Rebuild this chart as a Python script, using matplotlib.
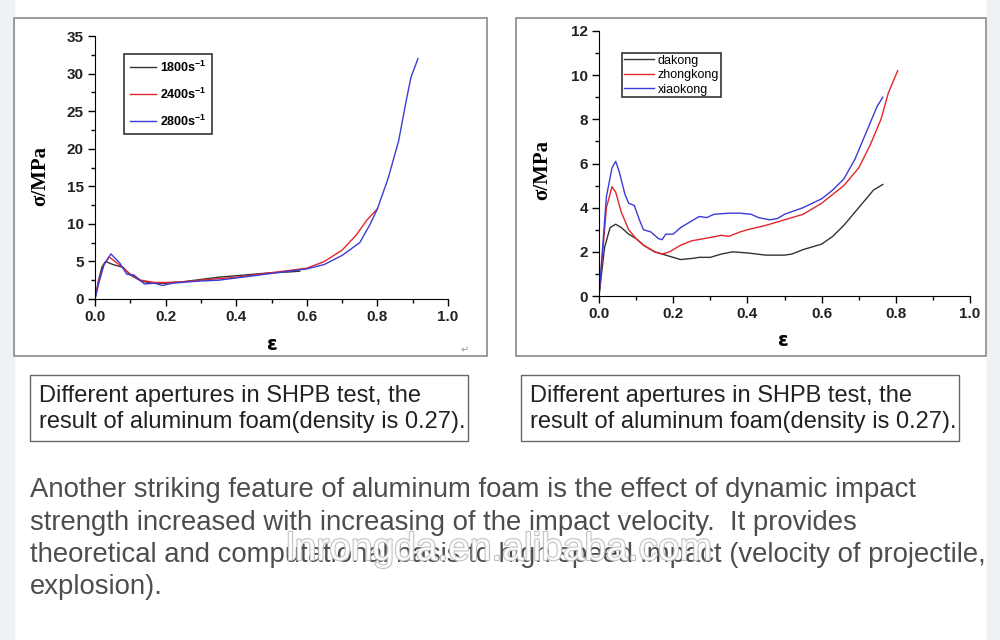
import matplotlib
matplotlib.use("Agg")
import matplotlib.pyplot as plt
from matplotlib.patches import Rectangle
from matplotlib.ticker import MultipleLocator
import matplotlib.patheffects as pe

plt.rcParams['font.family'] = ['Liberation Sans', 'DejaVu Sans']
plt.rcParams['mathtext.fontset'] = 'custom'
plt.rcParams['mathtext.bf'] = 'Liberation Sans:bold'
plt.rcParams['mathtext.default'] = 'bf'

W, H = 1000, 640

# ---- left chart: strain rates ----
rate_labels = ["1800s$^{-1}$", "2400s$^{-1}$", "2800s$^{-1}$"]
rate_colors = ["#333333", "#e3262c", "#3b3bd6"]
e_1800 = [0, 0.01, 0.02, 0.03, 0.05, 0.08, 0.1, 0.13, 0.16, 0.2, 0.25, 0.3, 0.35, 0.4, 0.45, 0.5, 0.55, 0.58]
s_1800 = [0, 2.5, 4.3, 5.0, 4.6, 4.2, 3.2, 2.4, 2.1, 2.1, 2.3, 2.6, 2.9, 3.1, 3.3, 3.5, 3.6, 3.7]
e_2400 = [0, 0.01, 0.025, 0.04, 0.07, 0.1, 0.13, 0.17, 0.2, 0.25, 0.3, 0.35, 0.4, 0.45, 0.5, 0.55, 0.6,
          0.65, 0.7, 0.74, 0.77, 0.8]
s_2400 = [0, 2.3, 4.6, 5.6, 4.5, 3.3, 2.5, 2.2, 2.2, 2.3, 2.5, 2.7, 2.9, 3.2, 3.5, 3.8, 4.1,
          5.0, 6.5, 8.5, 10.5, 12.0]
e_2800 = [0, 0.01, 0.025, 0.045, 0.07, 0.09, 0.11, 0.14, 0.17, 0.19, 0.22, 0.27, 0.3, 0.35, 0.4, 0.45,
          0.5, 0.55, 0.6, 0.65, 0.7, 0.75, 0.78, 0.8, 0.83, 0.86, 0.88, 0.895, 0.915]
s_2800 = [0, 2.0, 4.5, 6.0, 4.8, 3.3, 3.2, 2.0, 2.1, 1.8, 2.1, 2.3, 2.4, 2.5, 2.8, 3.1,
          3.4, 3.7, 4.0, 4.6, 5.8, 7.5, 10.0, 12.0, 16.0, 21.0, 26.0, 29.5, 32.0]

# ---- right chart: aperture sizes ----
hole_labels = ["dakong", "zhongkong", "xiaokong"]
hole_colors = ["#333333", "#e3262c", "#3b3bd6"]
e_da = [0, 0.015, 0.03, 0.045, 0.06, 0.08, 0.1, 0.12, 0.15, 0.18, 0.2, 0.22, 0.25, 0.27, 0.3, 0.33,
        0.36, 0.4, 0.45, 0.5, 0.52, 0.55, 0.6, 0.63, 0.66, 0.69, 0.72, 0.74, 0.765]
s_da = [0, 2.2, 3.1, 3.25, 3.1, 2.8, 2.6, 2.3, 2.0, 1.85, 1.75, 1.65, 1.7, 1.75, 1.75, 1.9,
        2.0, 1.95, 1.85, 1.85, 1.9, 2.1, 2.35, 2.7, 3.2, 3.8, 4.4, 4.8, 5.05]
e_zhong = [0, 0.02, 0.035, 0.045, 0.06, 0.08, 0.1, 0.12, 0.15, 0.17, 0.19, 0.22, 0.25, 0.3, 0.33, 0.35,
           0.38, 0.4, 0.45, 0.5, 0.55, 0.6, 0.63, 0.66, 0.7, 0.73, 0.76, 0.78, 0.805]
s_zhong = [0, 4.0, 4.95, 4.7, 3.8, 3.0, 2.6, 2.3, 2.0, 1.9, 2.0, 2.3, 2.5, 2.65, 2.75, 2.7,
           2.9, 3.0, 3.2, 3.45, 3.7, 4.2, 4.6, 5.0, 5.8, 6.8, 8.0, 9.2, 10.2]
e_xiao = [0, 0.02, 0.035, 0.045, 0.055, 0.07, 0.08, 0.095, 0.11, 0.12, 0.14, 0.16, 0.17, 0.18, 0.2,
          0.22, 0.25, 0.27, 0.29, 0.31, 0.35, 0.38, 0.41, 0.43, 0.46, 0.48, 0.5, 0.55, 0.6, 0.63,
          0.66, 0.69, 0.71, 0.73, 0.75, 0.765]
s_xiao = [0, 4.5, 5.8, 6.1, 5.6, 4.6, 4.2, 4.1, 3.4, 3.0, 2.9, 2.6, 2.55, 2.8, 2.8,
          3.1, 3.4, 3.6, 3.55, 3.7, 3.75, 3.75, 3.7, 3.55, 3.45, 3.5, 3.7, 4.0, 4.4, 4.8,
          5.3, 6.2, 7.0, 7.8, 8.6, 9.0]

caption = "Different apertures in SHPB test, the\nresult of aluminum foam(density is 0.27)."
paragraph = ["Another striking feature of aluminum foam is the effect of dynamic impact",
             "strength increased with increasing of the impact velocity.  It provides",
             "theoretical and computational basis to high speed impact (velocity of projectile,",
             "explosion)."]


def fx(x):
    return x / W


def fy(y):
    return 1 - y / H


fig = plt.figure(figsize=(10, 6.4), dpi=100)
fig.patch.set_facecolor("white")

# page strips and frames
fig.patches.append(Rectangle((0, 0), fx(14), 1, transform=fig.transFigure, color="#eef2f5", zorder=0))
fig.patches.append(Rectangle((fx(987), 0), 1, 1, transform=fig.transFigure, color="#eef2f5", zorder=0))
for x0, x1 in [(14, 487), (516, 986)]:
    fig.patches.append(Rectangle((fx(x0), fy(356)), fx(x1 - x0), (356 - 18) / H, transform=fig.transFigure,
                                 fill=False, edgecolor="#8a8a8a", lw=1.2, zorder=1))
for x0, x1 in [(30, 468), (521, 959)]:
    fig.patches.append(Rectangle((fx(x0), fy(441)), fx(x1 - x0), 66 / H, transform=fig.transFigure,
                                 fill=False, edgecolor="#666666", lw=1.0, zorder=1))


def style_axes(ax, ymax, ymaj, ymin):
    for s in ["top", "right"]:
        ax.spines[s].set_visible(False)
    ax.set_xlim(0, 1.0)
    ax.set_ylim(0, ymax)
    ax.xaxis.set_major_locator(MultipleLocator(0.2))
    ax.xaxis.set_minor_locator(MultipleLocator(0.1))
    ax.yaxis.set_major_locator(MultipleLocator(ymaj))
    ax.yaxis.set_minor_locator(MultipleLocator(ymin))
    ax.tick_params(which="major", direction="out", length=5, width=1, labelsize=11, pad=3)
    ax.tick_params(which="minor", direction="out", length=3, width=1)
    ax.set_xticklabels([f"{v:.1f}" for v in ax.get_xticks()], fontweight="bold", color="#222222")
    ax.set_yticklabels([f"{int(v)}" for v in ax.get_yticks()], fontweight="bold", color="#222222")
    ax.patch.set_alpha(0)


ax1 = fig.add_axes([fx(95), fy(299), fx(353), 263 / H])
for e, s, lab, c in zip([e_1800, e_2400, e_2800], [s_1800, s_2400, s_2800], rate_labels, rate_colors):
    ax1.plot(e, s, color=c, lw=1.0, label=lab)
style_axes(ax1, 35, 5, 2.5)
leg1 = ax1.legend(loc="upper left", bbox_to_anchor=(0.083, 0.932), frameon=True, fancybox=False,
                  edgecolor="black", prop={"weight": "bold", "size": 9}, labelspacing=0.95,
                  handlelength=2.1, handletextpad=0.3, borderpad=0.45, borderaxespad=0)
leg1.get_frame().set_linewidth(1.2)

ax2 = fig.add_axes([fx(599), fy(296), fx(371), 265 / H])
for e, s, lab, c in zip([e_da, e_zhong, e_xiao], [s_da, s_zhong, s_xiao], hole_labels, hole_colors):
    ax2.plot(e, s, color=c, lw=1.0, label=lab)
style_axes(ax2, 12, 2, 1)
leg2 = ax2.legend(loc="upper left", bbox_to_anchor=(0.062, 0.918), frameon=True, fancybox=False,
                  edgecolor="black", prop={"size": 9}, labelspacing=0.2,
                  handlelength=2.4, handletextpad=0.3, borderpad=0.15, borderaxespad=0)
leg2.get_frame().set_linewidth(1.2)

# axis labels
for x, y in [(40, 176), (542, 170)]:
    fig.text(fx(x), fy(y), "σ/MPa", rotation=90, ha="center", va="center",
             family="Liberation Serif", fontweight="bold", fontsize=15)
for x, y in [(272, 345), (783, 341)]:
    fig.text(fx(x), fy(y), "ε", ha="center", va="center", fontweight="bold", fontsize=14,
             family="DejaVu Sans")
fig.text(fx(465), fy(350), "↵", ha="center", va="center", fontsize=7, color="#999999", family="DejaVu Sans")

# captions
for x in [39, 530]:
    fig.text(fx(x), fy(409), caption, ha="left", va="center", fontsize=17, color="#222222",
             linespacing=1.25)

# paragraph
for i, line in enumerate(paragraph):
    fig.text(fx(30), fy(490 + 32.5 * i), line, ha="left", va="center", fontsize=19.8, color="#4d4d4d")

# watermark
fig.text(fx(499), fy(550), "lnrongda.en.alibaba.com", ha="center", va="center", fontsize=28,
         color="white", alpha=0.9,
         path_effects=[pe.withStroke(linewidth=1.5, foreground="#bbbbbb")])

fig.savefig("out.png", dpi=100)
